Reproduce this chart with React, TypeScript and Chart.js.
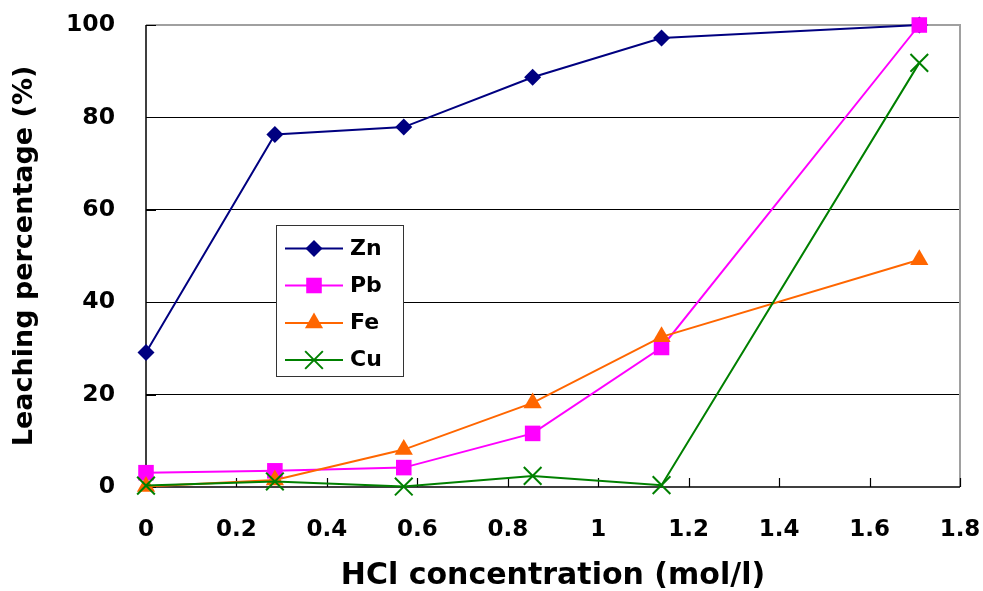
import React, { useEffect, useRef } from 'react';
import { Chart, registerables } from 'chart.js';

Chart.register(...registerables);

// ---- Data ----
const concentrations = [0, 0.285, 0.57, 0.855, 1.14, 1.71];
const znValues = [29.1, 76.3, 77.9, 88.7, 97.2, 100];
const pbValues = [3.1, 3.5, 4.2, 11.6, 30.2, 100];
const feValues = [0.1, 1.5, 8.1, 18.2, 32.5, 49.2];
const cuValues = [0.3, 1.2, 0.1, 2.4, 0.4, 91.8];

const seriesNames = ['Zn', 'Pb', 'Fe', 'Cu'];
const seriesColors = ['#000080', '#FF00FF', '#FF6600', '#008000'];
const seriesStyles = ['rectRot', 'rect', 'triangle', 'crossRot'];
const seriesRadii = [8.5, 11, 10.5, 12.5];

const xTickValues = [0, 0.2, 0.4, 0.6, 0.8, 1, 1.2, 1.4, 1.6, 1.8];
const xTickLabels = ['0', '0.2', '0.4', '0.6', '0.8', '1', '1.2', '1.4', '1.6', '1.8'];
const yTickValues = [0, 20, 40, 60, 80, 100];
const yTickLabels = ['0', '20', '40', '60', '80', '100'];

const xTitle = 'HCl concentration (mol/l)';
const yTitle = 'Leaching percentage (%)';

const FONT = "'DejaVu Sans', 'Liberation Sans', sans-serif";

function drawMarker(ctx: CanvasRenderingContext2D, style: string, x: number, y: number, r: number, color: string) {
  ctx.save();
  ctx.fillStyle = color;
  ctx.strokeStyle = color;
  ctx.lineWidth = 2;
  ctx.beginPath();
  if (style === 'rectRot') {
    ctx.moveTo(x - r, y);
    ctx.lineTo(x, y - r);
    ctx.lineTo(x + r, y);
    ctx.lineTo(x, y + r);
    ctx.closePath();
    ctx.fill();
  } else if (style === 'rect') {
    const s = Math.SQRT1_2 * r;
    ctx.rect(x - s, y - s, 2 * s, 2 * s);
    ctx.fill();
  } else if (style === 'triangle') {
    let rad = 0;
    ctx.moveTo(x + Math.sin(rad) * r, y - Math.cos(rad) * r);
    rad += (2 * Math.PI) / 3;
    ctx.lineTo(x + Math.sin(rad) * r, y - Math.cos(rad) * r);
    rad += (2 * Math.PI) / 3;
    ctx.lineTo(x + Math.sin(rad) * r, y - Math.cos(rad) * r);
    ctx.closePath();
    ctx.fill();
  } else if (style === 'crossRot') {
    const o = Math.SQRT1_2 * r;
    ctx.moveTo(x - o, y - o);
    ctx.lineTo(x + o, y + o);
    ctx.moveTo(x - o, y + o);
    ctx.lineTo(x + o, y - o);
    ctx.stroke();
  }
  ctx.restore();
}

const framePlugin = {
  id: 'frame',
  beforeDatasetsDraw(chart: any) {
    const { ctx, chartArea } = chart;
    const { left, right, top, bottom } = chartArea;
    const xs = chart.scales.x;
    const ys = chart.scales.y;
    ctx.save();
    ctx.strokeStyle = '#a0a0a0';
    ctx.lineWidth = 2;
    ctx.beginPath();
    ctx.moveTo(left, top);
    ctx.lineTo(right, top);
    ctx.lineTo(right, bottom);
    ctx.stroke();
    ctx.strokeStyle = '#000';
    ctx.lineWidth = 1.5;
    ctx.beginPath();
    ctx.moveTo(left, top);
    ctx.lineTo(left, bottom);
    ctx.lineTo(right, bottom);
    ctx.stroke();
    ctx.lineWidth = 1.2;
    ctx.beginPath();
    yTickValues.forEach((v) => {
      const py = Math.round(ys.getPixelForValue(v)) + 0.5;
      ctx.moveTo(left, py);
      ctx.lineTo(left + 10, py);
    });
    xTickValues.forEach((v) => {
      const px = Math.round(xs.getPixelForValue(v)) + 0.5;
      ctx.moveTo(px, bottom);
      ctx.lineTo(px, bottom - 9);
    });
    ctx.stroke();
    ctx.restore();
  },
};

const legendPlugin = {
  id: 'boxLegend',
  afterDatasetsDraw(chart: any) {
    const { ctx } = chart;
    const bx = 276.5, by = 225.5, bw = 127, bh = 151;
    ctx.save();
    ctx.fillStyle = '#fff';
    ctx.fillRect(bx, by, bw, bh);
    ctx.strokeStyle = '#333';
    ctx.lineWidth = 1;
    ctx.strokeRect(bx, by, bw, bh);
    const rowY = [248.5, 285.5, 323, 360];
    seriesNames.forEach((name, i) => {
      const y = rowY[i];
      ctx.strokeStyle = seriesColors[i];
      ctx.lineWidth = 2;
      ctx.beginPath();
      ctx.moveTo(285, y);
      ctx.lineTo(343, y);
      ctx.stroke();
      drawMarker(ctx, seriesStyles[i], 314, y, seriesRadii[i], seriesColors[i]);
      ctx.fillStyle = '#000';
      ctx.font = `bold 22px ${FONT}`;
      ctx.textBaseline = 'middle';
      ctx.textAlign = 'left';
      ctx.fillText(name, 350, y + 0.5);
    });
    ctx.restore();
  },
};

function zeroPadding(scale: any) {
  scale.paddingTop = 0;
  scale.paddingBottom = 0;
  scale.paddingLeft = 0;
  scale.paddingRight = 0;
}

export default function App() {
  const canvasRef = useRef<HTMLCanvasElement | null>(null);

  useEffect(() => {
    if (!canvasRef.current) return;
    const allValues = [znValues, pbValues, feValues, cuValues];
    const orders = [4, 3, 2, 1];
    const datasets = seriesNames.map((name, i) => ({
      label: name,
      data: concentrations.map((x, j) => ({ x, y: allValues[i][j] })),
      borderColor: seriesColors[i],
      backgroundColor: seriesColors[i],
      pointBackgroundColor: seriesColors[i],
      pointBorderColor: seriesColors[i],
      pointStyle: seriesStyles[i],
      pointRadius: seriesRadii[i],
      pointBorderWidth: seriesStyles[i] === 'crossRot' ? 2 : 0,
      borderWidth: 2,
      tension: 0,
      fill: false,
      clip: false as any,
      order: orders[i],
    }));

    const chart = new Chart(canvasRef.current, {
      type: 'line',
      data: { datasets },
      plugins: [framePlugin, legendPlugin],
      options: {
        animation: false,
        responsive: false,
        layout: { padding: { top: 25, right: 23, left: 0, bottom: 0 } },
        plugins: {
          legend: { display: false },
          tooltip: { enabled: false },
        },
        scales: {
          x: {
            type: 'linear',
            min: 0,
            max: 1.8,
            afterBuildTicks: (scale: any) => {
              scale.ticks = xTickValues.map((v) => ({ value: v }));
            },
            afterFit: (scale: any) => {
              scale.height = 104;
              zeroPadding(scale);
            },
            grid: { display: false, drawTicks: false },
            border: { display: false },
            ticks: {
              padding: 32,
              color: '#000',
              font: { family: FONT, size: 23, weight: 'bold', lineHeight: 1 },
              maxRotation: 0,
              autoSkip: false,
              callback: (_v: any, i: number) => xTickLabels[i],
            },
            title: {
              display: true,
              text: xTitle,
              color: '#000',
              font: { family: FONT, size: 30, weight: 'bold', lineHeight: 1 },
              padding: { top: 0, bottom: 0 },
            },
          },
          y: {
            type: 'linear',
            min: 0,
            max: 100,
            afterBuildTicks: (scale: any) => {
              scale.ticks = yTickValues.map((v) => ({ value: v }));
            },
            afterFit: (scale: any) => {
              scale.width = 146;
              zeroPadding(scale);
            },
            grid: {
              drawTicks: false,
              color: (c: any) =>
                c.tick && (c.tick.value === 0 || c.tick.value === 100) ? 'rgba(0,0,0,0)' : '#000',
              lineWidth: 1,
            },
            border: { display: false },
            ticks: {
              padding: 31,
              color: '#000',
              font: { family: FONT, size: 23.5, weight: 'bold', lineHeight: 1 },
              autoSkip: false,
              callback: (_v: any, i: number) => yTickLabels[i],
            },
            title: {
              display: true,
              text: yTitle,
              color: '#000',
              font: { family: FONT, size: 27, weight: 'bold', lineHeight: 1 },
              padding: { top: 11, bottom: 0 },
            },
          },
        },
      } as any,
    });
    return () => chart.destroy();
  }, []);

  return (
    <div style={{ position: 'absolute', left: 0, top: 0, width: 983, height: 591, background: '#fff' }}>
      <canvas ref={canvasRef} width={983} height={591} style={{ display: 'block' }} />
    </div>
  );
}
